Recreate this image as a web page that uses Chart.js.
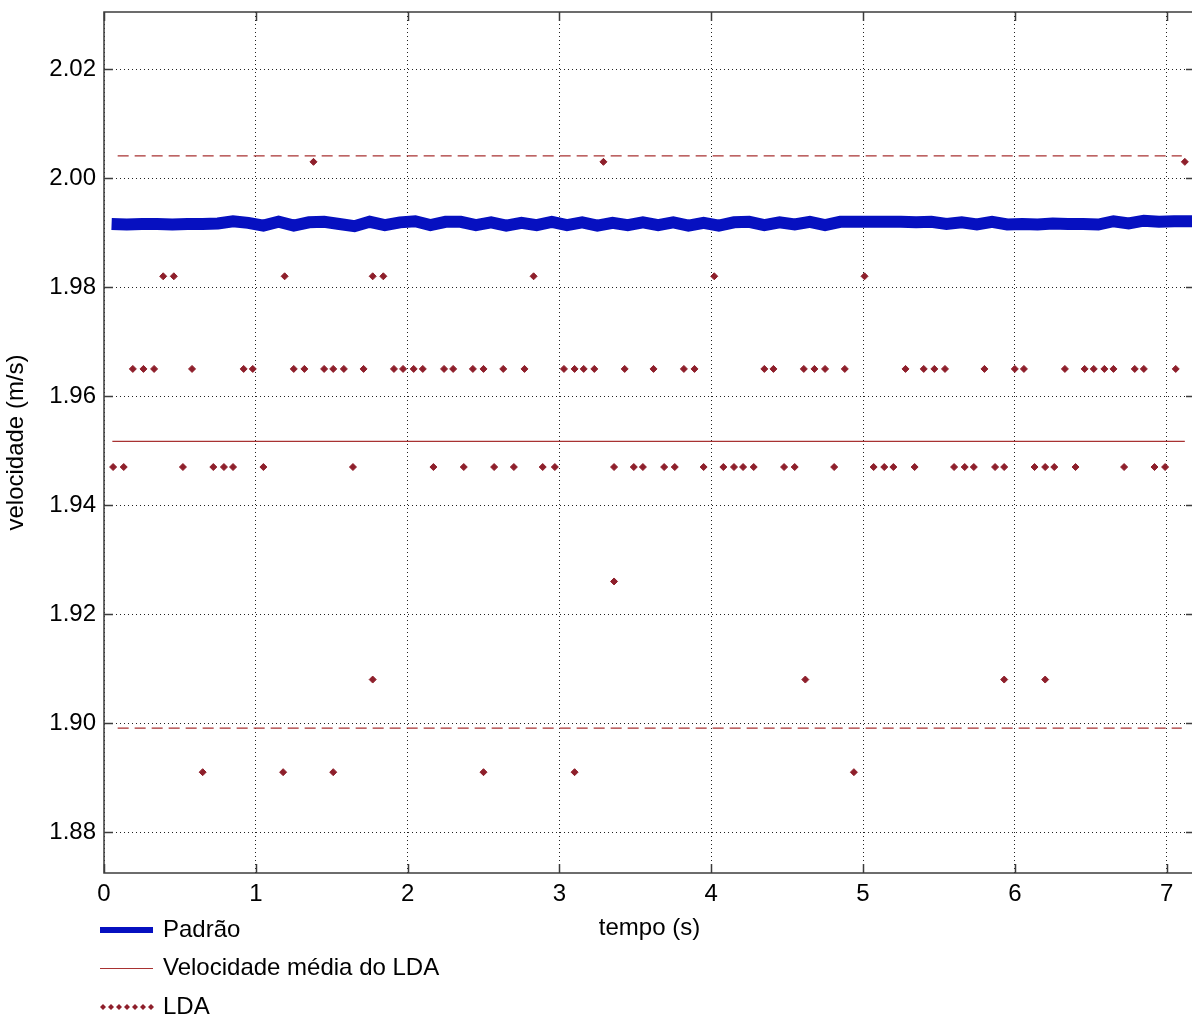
<!DOCTYPE html>
<html>
<head>
<meta charset="utf-8">
<script src="https://cdn.jsdelivr.net/npm/chart.js@4"></script>
<style>
  html, body { margin: 0; padding: 0; background: #fff; overflow: hidden; }
  #wrap { width: 1200px; height: 1021px; position: relative; }
</style>
</head>
<body>
<div id="wrap"><canvas id="velChart"></canvas></div>
<script>
// Padrão (reference velocity), sampled every ~0.1 s
const tempoPadrao = [
  0.05, 0.15, 0.25, 0.35, 0.45, 0.55, 0.65, 0.75,
  0.85, 0.95, 1.05, 1.15, 1.25, 1.35, 1.45, 1.55, 1.65, 1.75,
  1.85, 1.95, 2.05, 2.15, 2.25, 2.35, 2.45, 2.55, 2.65, 2.75,
  2.85, 2.95, 3.05, 3.15, 3.25, 3.35, 3.45, 3.55, 3.65, 3.75,
  3.85, 3.95, 4.05, 4.15, 4.25, 4.35, 4.45, 4.55, 4.65, 4.75,
  4.85, 4.95, 5.05, 5.15, 5.25, 5.35, 5.45, 5.55, 5.65, 5.75,
  5.85, 5.95, 6.05, 6.15, 6.25, 6.35, 6.45, 6.55, 6.65, 6.75,
  6.85, 6.95, 7.05, 7.20
];
const velPadrao = [
  1.9916, 1.9915, 1.9916, 1.9916, 1.9915, 1.9916, 1.9916, 1.9917,
  1.9921, 1.9918, 1.9913, 1.9920, 1.9913, 1.9919, 1.9920, 1.9916, 1.9912, 1.9920,
  1.9914, 1.9919, 1.9921, 1.9914, 1.9920, 1.9920, 1.9914, 1.9919, 1.9913, 1.9918,
  1.9914, 1.9920, 1.9914, 1.9919, 1.9913, 1.9918, 1.9914, 1.9919, 1.9914, 1.9919,
  1.9913, 1.9918, 1.9913, 1.9919, 1.9920, 1.9914, 1.9919, 1.9915, 1.9920, 1.9914,
  1.9920, 1.9920, 1.9920, 1.9920, 1.9920, 1.9919, 1.9920, 1.9916, 1.9919, 1.9915,
  1.9920, 1.9915, 1.9916, 1.9915, 1.9917, 1.9916, 1.9916, 1.9915, 1.9921, 1.9917,
  1.9922, 1.9920, 1.9921, 1.9921
];

// LDA samples: quantized velocity levels and the times at which each occurs
const ldaNiveis = [2.003, 1.982, 1.965, 1.947, 1.926, 1.908, 1.891];
const ldaTempos = [
  [1.38, 3.29, 7.12],
  [0.39, 0.46, 1.19, 1.77, 1.84, 2.83, 4.02, 5.01],
  [0.19, 0.26, 0.33, 0.58, 0.92, 0.98, 1.25, 1.32, 1.45, 1.51, 1.58, 1.71,
   1.91, 1.97, 2.04, 2.10, 2.24, 2.30, 2.43, 2.50, 2.63, 2.77, 3.03, 3.10,
   3.16, 3.23, 3.43, 3.62, 3.82, 3.89, 4.35, 4.41, 4.61, 4.68, 4.75, 4.88,
   5.28, 5.40, 5.47, 5.54, 5.80, 6.00, 6.06, 6.33, 6.46, 6.52, 6.59, 6.65,
   6.79, 6.85, 7.06],
  [0.06, 0.13, 0.52, 0.72, 0.79, 0.85, 1.05, 1.64, 2.17, 2.37, 2.57, 2.70,
   2.89, 2.97, 3.36, 3.49, 3.55, 3.69, 3.76, 3.95, 4.08, 4.15, 4.21, 4.28,
   4.48, 4.55, 4.81, 5.07, 5.14, 5.20, 5.34, 5.60, 5.67, 5.73, 5.87, 5.93,
   6.13, 6.20, 6.26, 6.40, 6.72, 6.92, 6.99],
  [3.36],
  [1.77, 4.62, 5.93, 6.20],
  [0.65, 1.18, 1.51, 2.50, 3.10, 4.94]
];

// mean LDA velocity and the dashed limit lines
const mediaLDA = 1.9517;
const tempoMedia = [0.055, 7.12];
const limiteSup = 2.0041;
const limiteInf = 1.8991;
const tempoLimites = [0.09, 7.10];

const xTicks = [0, 1, 2, 3, 4, 5, 6, 7];
const yTicks = [1.88, 1.90, 1.92, 1.94, 1.96, 1.98, 2.00, 2.02];
const xMin = 0, xMax = 7.187;
const yMin = 1.8725, yMax = 2.0305;

const FONT = '"Liberation Sans", Arial, Helvetica, sans-serif';
const AZUL = '#0610c0';
const VERMELHO = '#a83232';
const PONTO = '#8e1f2b';

const padraoPts = tempoPadrao.map((t, i) => ({ x: t, y: velPadrao[i] }));
const ldaPts = [];
ldaNiveis.forEach((v, k) => ldaTempos[k].forEach(t => ldaPts.push({ x: t, y: v })));
const mediaPts = tempoMedia.map(t => ({ x: t, y: mediaLDA }));
const supPts = tempoLimites.map(t => ({ x: t, y: limiteSup }));
const infPts = tempoLimites.map(t => ({ x: t, y: limiteInf }));

const legendItems = [
  { text: 'Padrão', kind: 'thick' },
  { text: 'Velocidade média do LDA', kind: 'thin' },
  { text: 'LDA', kind: 'dots' }
];

const boxPlugin = {
  id: 'matlabBox',
  afterDatasetsDraw(chart) {
    const { ctx, chartArea: a, scales } = chart;
    ctx.save();
    ctx.strokeStyle = '#3c3c3c';
    ctx.lineWidth = 1.5;
    ctx.strokeRect(a.left, a.top, a.right - a.left, a.bottom - a.top);
    ctx.beginPath();
    const tl = 9;
    scales.y.ticks.forEach(t => {
      const py = Math.round(scales.y.getPixelForValue(t.value)) + 0.5;
      ctx.moveTo(a.left, py); ctx.lineTo(a.left + tl, py);
      ctx.moveTo(a.right, py); ctx.lineTo(a.right - tl, py);
    });
    scales.x.ticks.forEach(t => {
      const px = Math.round(scales.x.getPixelForValue(t.value)) + 0.5;
      ctx.moveTo(px, a.bottom); ctx.lineTo(px, a.bottom - tl);
      ctx.moveTo(px, a.top); ctx.lineTo(px, a.top + tl);
    });
    ctx.stroke();
    ctx.restore();
  },
  afterDraw(chart) {
    const ctx = chart.ctx;
    ctx.save();
    ctx.font = '24px ' + FONT;
    ctx.textBaseline = 'middle';
    ctx.fillStyle = '#000';
    legendItems.forEach((it, i) => {
      const y = 930 + i * 38.5;
      if (it.kind === 'thick') {
        ctx.strokeStyle = AZUL; ctx.lineWidth = 6;
        ctx.beginPath(); ctx.moveTo(100, y); ctx.lineTo(153, y); ctx.stroke();
      } else if (it.kind === 'thin') {
        ctx.strokeStyle = VERMELHO; ctx.lineWidth = 1.2;
        ctx.beginPath(); ctx.moveTo(100, y); ctx.lineTo(153, y); ctx.stroke();
      } else {
        ctx.fillStyle = PONTO;
        for (let k = 0; k < 7; k++) {
          const cx = 103 + k * 8, r = 3;
          ctx.beginPath();
          ctx.moveTo(cx, y - r); ctx.lineTo(cx + r, y); ctx.lineTo(cx, y + r); ctx.lineTo(cx - r, y);
          ctx.closePath(); ctx.fill();
        }
        ctx.fillStyle = '#000';
      }
      ctx.fillText(it.text, 163, y);
    });
    ctx.restore();
  }
};

new Chart(document.getElementById('velChart'), {
  type: 'scatter',
  data: {
    datasets: [
      {
        label: 'LDA',
        data: ldaPts,
        showLine: false,
        pointStyle: 'rectRot',
        pointRadius: 3.5,
        pointBorderWidth: 1,
        pointBackgroundColor: PONTO,
        pointBorderColor: PONTO
      },
      {
        label: 'Padrão',
        data: padraoPts,
        showLine: true,
        borderColor: AZUL,
        borderWidth: 12,
        pointRadius: 0,
        tension: 0
      },
      {
        label: 'Velocidade média do LDA',
        data: mediaPts,
        showLine: true,
        borderColor: VERMELHO,
        borderWidth: 1.2,
        pointRadius: 0
      },
      {
        label: 'limite superior',
        data: supPts,
        showLine: true,
        borderColor: VERMELHO,
        borderWidth: 1.2,
        borderDash: [11, 6],
        pointRadius: 0
      },
      {
        label: 'limite inferior',
        data: infPts,
        showLine: true,
        borderColor: VERMELHO,
        borderWidth: 1.2,
        borderDash: [11, 6],
        pointRadius: 0
      }
    ]
  },
  options: {
    responsive: true,
    maintainAspectRatio: false,
    animation: false,
    layout: { padding: { top: 12, right: 0, bottom: 0, left: 0 } },
    plugins: {
      legend: { display: false },
      tooltip: { enabled: false }
    },
    scales: {
      x: {
        type: 'linear',
        min: xMin,
        max: xMax,
        afterBuildTicks: s => { s.ticks = xTicks.map(v => ({ value: v })); },
        afterFit: s => { s.height = 148; s.paddingLeft = 0; s.paddingRight = 0; },
        ticks: {
          color: '#000',
          font: { family: FONT, size: 24 },
          padding: 7,
          maxRotation: 0,
          callback: v => String(v)
        },
        grid: { color: '#222', lineWidth: 1, drawTicks: false },
        border: { display: false, dash: [1, 3] },
        title: {
          display: true,
          text: 'tempo (s)',
          color: '#000',
          font: { family: FONT, size: 24 },
          padding: { top: 4, bottom: 78 }
        }
      },
      y: {
        type: 'linear',
        min: yMin,
        max: yMax,
        afterBuildTicks: s => { s.ticks = yTicks.map(v => ({ value: v })); },
        afterFit: s => { s.width = 104; s.paddingTop = 0; s.paddingBottom = 0; },
        ticks: {
          color: '#000',
          font: { family: FONT, size: 24 },
          padding: 8,
          callback: v => v.toFixed(2)
        },
        grid: { color: '#222', lineWidth: 1, drawTicks: false },
        border: { display: false, dash: [1, 3] },
        title: {
          display: true,
          text: 'velocidade (m/s)',
          color: '#000',
          font: { family: FONT, size: 24 },
          padding: { top: 2, bottom: 0 }
        }
      }
    }
  },
  plugins: [boxPlugin]
});
</script>
</body>
</html>
